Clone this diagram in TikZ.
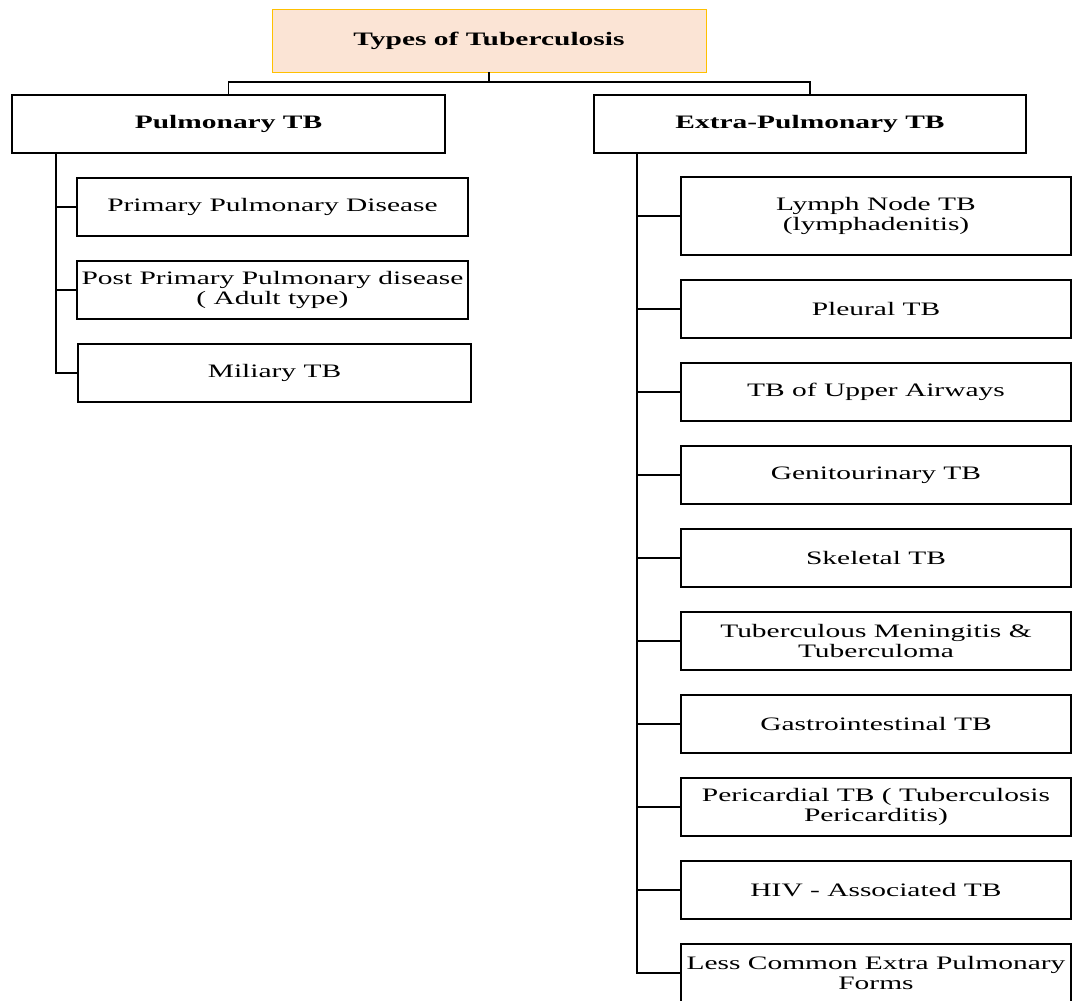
\documentclass[tikz,border=0pt]{standalone}
\usepackage{fontspec}
\setmainfont[FakeStretch=1.55]{Liberation Serif}
\definecolor{peach}{RGB}{251,228,213}
\definecolor{gold}{RGB}{255,192,0}

\begin{document}
\begin{tikzpicture}[x=1pt, y=-1pt,
        box/.style={draw=black, line width=1.8pt, minimum height=58pt,
                inner sep=0pt, align=center, font=\fontsize{19}{20.5}\selectfont},
        head/.style={box, font=\fontsize{19}{20.5}\selectfont\bfseries},
        link/.style={line width=1.7pt, black}]
        \useasboundingbox (0,0) rectangle (1072,1001);
        \clip (0,0) rectangle (1072,1001);

        % top of the tree
        \node[head, draw=gold, line width=0.8pt, fill=peach, minimum width=434pt,
                minimum height=63pt] (types) at (489,40.5) {Types of Tuberculosis};
        \node[head, minimum width=433pt] (pulm) at (228.5,124) {Pulmonary TB};
        \node[head, minimum width=432pt] (extra) at (810,124) {Extra-Pulmonary TB};

        % pulmonary forms
        \node[box, minimum width=391pt] (primary) at (272.5,207) {Primary Pulmonary Disease};
        \node[box, minimum width=391pt] (postprimary) at (272.5,290) {Post Primary Pulmonary disease\\( Adult type)};
        \node[box, minimum width=393pt] (miliary) at (274.5,373) {Miliary TB};

        % extra-pulmonary forms
        \node[box, minimum width=390pt, minimum height=78pt] (lymph) at (876,216) {Lymph Node TB\\(lymphadenitis)};
        \node[box, minimum width=390pt] (pleural) at (876,309) {Pleural TB};
        \node[box, minimum width=390pt] (airways) at (876,392) {TB of Upper Airways};
        \node[box, minimum width=390pt] (genito) at (876,475) {Genitourinary TB};
        \node[box, minimum width=390pt] (skeletal) at (876,558) {Skeletal TB};
        \node[box, minimum width=390pt] (mening) at (876,641) {Tuberculous Meningitis \&\\Tuberculoma};
        \node[box, minimum width=390pt] (gastro) at (876,724) {Gastrointestinal TB};
        \node[box, minimum width=390pt] (pericard) at (876,807) {Pericardial TB ( Tuberculosis\\Pericarditis)};
        \node[box, minimum width=390pt] (hiv) at (876,890) {HIV - Associated TB};
        \node[box, minimum width=390pt] (lesscommon) at (876,973) {Less Common Extra Pulmonary\\Forms};

        % connectors
        \coordinate (split) at (489,82);
        \coordinate (ltrunk) at (56,153);
        \coordinate (rtrunk) at (637,153);
        \draw[link] (types.south) -- (split);
        \draw[link] (pulm.north) |- (split) -| (extra.north);

        \draw[link] (ltrunk) |- (miliary.west);
        \foreach \n in {primary,postprimary}
                \draw[link] (ltrunk |- \n.west) -- (\n.west);

        \draw[link] (rtrunk) |- (lesscommon.west);
        \foreach \n in {lymph,pleural,airways,genito,skeletal,mening,gastro,pericard,hiv}
                \draw[link] (rtrunk |- \n.west) -- (\n.west);
\end{tikzpicture}
\end{document}
